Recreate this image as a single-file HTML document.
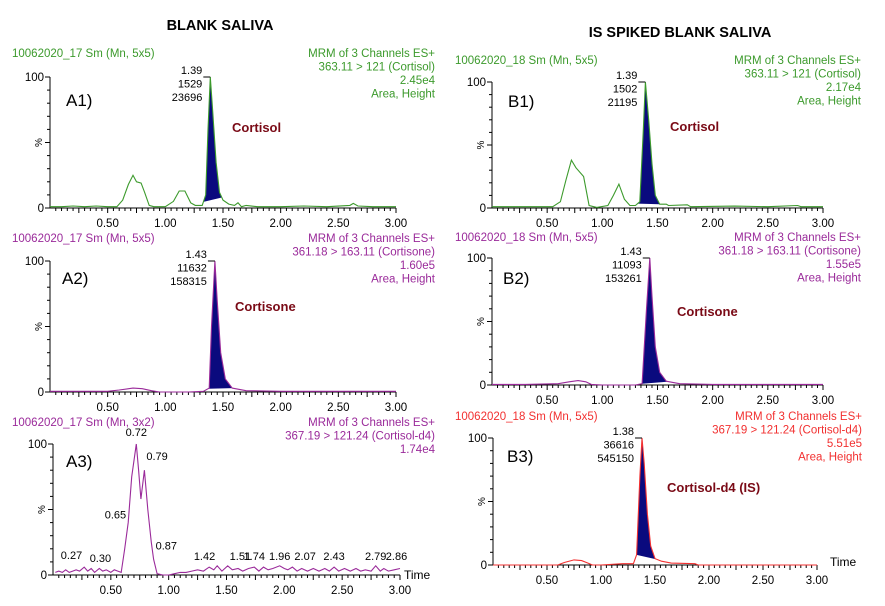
<!DOCTYPE html>
<html><head><meta charset="utf-8">
<style>
html,body{margin:0;padding:0;background:#fff;}
svg{display:block;font-family:"Liberation Sans",Arial,sans-serif;}
</style></head>
<body>
<svg id="c" width="885" height="606" viewBox="0 0 885 606">
<text x="220" y="30" text-anchor="middle" font-size="14.5" font-weight="bold" fill="#000">BLANK SALIVA</text>
<text x="680" y="37" text-anchor="middle" font-size="14.5" font-weight="bold" fill="#000">IS SPIKED BLANK SALIVA</text>
</svg>
<script>
// ---- data arrays ----
const xTickLabels = ["0.50","1.00","1.50","2.00","2.50","3.00"];
const xTickValues = [0.5,1.0,1.5,2.0,2.5,3.0];

const a1Times  = [0,0.1,0.2,0.3,0.4,0.5,0.58,0.63,0.68,0.72,0.75,0.79,0.82,0.86,0.9,1.0,1.07,1.12,1.17,1.22,1.26,1.32,1.35,1.37,1.39,1.41,1.44,1.47,1.5,1.55,1.6,1.63,1.66,1.7,1.8,2.0,2.2,2.4,2.6,2.63,2.67,2.8,3.0];
const a1Values = [1,1,1.5,1,1.5,1,1,6,18,25,20,19,12,2,1,1,5,13,13,4,2,2,10,60,100,75,35,12,6,3,2,4,1,2,1,1,1.5,1,2,3.5,1.5,1,1];

const a2Times  = [0,0.3,0.5,0.6,0.72,0.8,0.88,0.95,1.2,1.33,1.38,1.40,1.43,1.45,1.48,1.52,1.58,1.7,2.0,2.5,3.0];
const a2Values = [0.5,0.5,0.5,1.5,3,2.5,1,0,0,0.5,3,50,100,70,30,10,3,1,0.5,0.5,0.5];

const a3Times  = [0.02,0.05,0.08,0.11,0.14,0.17,0.2,0.23,0.27,0.3,0.33,0.36,0.4,0.43,0.46,0.5,0.53,0.56,0.59,0.62,0.65,0.68,0.72,0.74,0.76,0.79,0.82,0.85,0.87,0.9,0.95,1.0,1.05,1.1,1.15,1.2,1.25,1.3,1.35,1.39,1.42,1.46,1.51,1.55,1.6,1.64,1.69,1.74,1.78,1.82,1.86,1.9,1.96,2.0,2.03,2.07,2.11,2.15,2.2,2.25,2.3,2.35,2.39,2.43,2.47,2.52,2.57,2.62,2.66,2.7,2.75,2.79,2.83,2.86,2.9,2.95,3.0];
const a3Values = [2,3,2,4,2,3,4,3,6,3,5,2,5,3,4,2,4,3,2,20,40,75,100,80,58,80,50,25,12,1,0,0,1,2,2,3,4,3,6,4,7,3,7,4,5,3,5,6,3,6,4,5,7,5,4,6,3,5,3,5,3,5,3,6,3,5,3,5,3,4,3,7,3,5,3,4,5];
const a3PeakLabels = ["0.27","0.30","0.65","0.72","0.79","0.87","1.42","1.51","1.74","1.96","2.07","2.43","2.79","2.86"];
const a3PeakTimes  = [0.27,0.30,0.65,0.72,0.79,0.87,1.42,1.51,1.74,1.96,2.07,2.43,2.79,2.86];

const b1Times  = [0,0.3,0.55,0.62,0.67,0.72,0.76,0.83,0.88,0.95,1.05,1.1,1.15,1.2,1.25,1.3,1.34,1.37,1.39,1.42,1.45,1.48,1.52,1.58,1.6,1.77,1.8,2.2,2.5,2.77,2.8,3.0];
const b1Values = [1,1,1,5,22,38,32,25,2,0.5,2,10,19,7,2,2,5,60,100,70,35,10,3,3,2,2.5,1,1.5,1,2,1,1];

const b2Times  = [0,0.3,0.6,0.7,0.78,0.85,0.9,1.0,1.3,1.36,1.40,1.43,1.45,1.48,1.52,1.58,1.7,2.0,2.5,3.0];
const b2Values = [0.5,0.5,1,2.5,3.5,2.5,0.5,0,0,1,60,100,70,30,10,3,1,0.5,0.5,0.5];

const b3Times  = [0,0.3,0.6,0.66,0.75,0.82,0.88,0.92,1.0,1.2,1.3,1.33,1.36,1.38,1.40,1.43,1.46,1.5,1.56,1.65,1.87,1.9,3.0];
const b3Values = [0,0,0,2,4,3.5,1.5,0,0,1,1,8,70,100,80,40,15,5,3,1.5,1,0,0];

// ---- panel geometry ----
const GREEN="#3c9a2c", PURPLE="#9a2a9a", RED="#f23030", FILL="#0a0a7e", ANN="#7a0a16";
const panels = [
 {id:"a1",x0:50,x1:396,y100:77,y0:208,color:GREEN,times:a1Times,values:a1Values,fill:[1.33,1.49],
  left:"10062020_17 Sm (Mn, 5x5)",right:["MRM of 3 Channels ES+","363.11 > 121 (Cortisol)","2.45e4","Area, Height"],rx:435,hy:57,
  tag:"A1)",tx:66,ty:106,ann:["1.39","1529","23696"],annT:1.39,compound:"Cortisol",cx:232,cy:132,time:false},
 {id:"a2",x0:50,x1:396,y100:261,y0:392,color:PURPLE,times:a2Times,values:a2Values,fill:[1.37,1.58],
  left:"10062020_17 Sm (Mn, 5x5)",right:["MRM of 3 Channels ES+","361.18 > 163.11 (Cortisone)","1.60e5","Area, Height"],rx:435,hy:242,
  tag:"A2)",tx:62,ty:284,ann:["1.43","11632","158315"],annT:1.43,compound:"Cortisone",cx:235,cy:311,time:false},
 {id:"a3",x0:53,x1:400,y100:444,y0:575,color:PURPLE,times:a3Times,values:a3Values,fill:null,
  left:"10062020_17 Sm (Mn, 3x2)",right:["MRM of 3 Channels ES+","367.19 > 121.24 (Cortisol-d4)","1.74e4"],rx:435,hy:426,
  tag:"A3)",tx:66,ty:467,ann:null,compound:null,time:true,tmx:404,tmy:579},
 {id:"b1",x0:492,x1:823,y100:82,y0:208,color:GREEN,times:b1Times,values:b1Values,fill:[1.32,1.52],
  left:"10062020_18 Sm (Mn, 5x5)",right:["MRM of 3 Channels ES+","363.11 > 121 (Cortisol)","2.17e4","Area, Height"],rx:861,hy:64,
  tag:"B1)",tx:508,ty:107,ann:["1.39","1502","21195"],annT:1.39,compound:"Cortisol",cx:670,cy:131,time:false},
 {id:"b2",x0:492,x1:823,y100:258,y0:385,color:PURPLE,times:b2Times,values:b2Values,fill:[1.36,1.6],
  left:"10062020_18 Sm (Mn, 5x5)",right:["MRM of 3 Channels ES+","361.18 > 163.11 (Cortisone)","1.55e5","Area, Height"],rx:861,hy:241,
  tag:"B2)",tx:503,ty:284,ann:["1.43","11093","153261"],annT:1.43,compound:"Cortisone",cx:677,cy:316,time:false},
 {id:"b3",x0:493,x1:817,y100:438,y0:565,color:RED,times:b3Times,values:b3Values,fill:[1.33,1.52],
  left:"10062020_18 Sm (Mn, 5x5)",right:["MRM of 3 Channels ES+","367.19 > 121.24 (Cortisol-d4)","5.51e5","Area, Height"],rx:862,hy:420,
  tag:"B3)",tx:507,ty:462,ann:["1.38","36616","545150"],annT:1.38,compound:"Cortisol-d4 (IS)",cx:667,cy:492,time:true,tmx:830,tmy:566}
];

const svg=document.getElementById('c');
const NS="http://www.w3.org/2000/svg";
function mk(tag,attrs,parent,text){const e=document.createElementNS(NS,tag);for(const k in attrs)e.setAttribute(k,attrs[k]);if(text!==undefined)e.textContent=text;(parent||svg).appendChild(e);return e;}

panels.forEach(p=>{
  const g=mk('g',{});
  
  
  const sx=t=>p.x0+(t/3)*(p.x1-p.x0);
  const sy=v=>p.y0-(v/100)*(p.y0-p.y100);
  const lh=mk('text',{x:12+(p.id[0]==='b'?443:0),y:p.hy,'font-size':11.5,fill:p.color},g,p.left);
  
  
  p.right.forEach((s,i)=>{
    const t=mk('text',{x:p.rx,y:p.hy+i*13.5,'font-size':11.5,fill:p.color,'text-anchor':'end'},g,s);
    
    
  });
  mk('line',{x1:p.x0,y1:p.y100,x2:p.x0,y2:p.y0,stroke:'#000','stroke-width':1},g);
  mk('line',{x1:p.x0,y1:p.y0,x2:p.x1,y2:p.y0,stroke:'#000','stroke-width':1},g);
  for(let v=0;v<=100;v+=10){const L=(v%50===0)?5:3;mk('line',{x1:p.x0-L,y1:sy(v),x2:p.x0,y2:sy(v),stroke:'#000','stroke-width':1},g);}
  mk('text',{x:p.x0-6,y:sy(100)+4,'font-size':11.5,'text-anchor':'end'},g,'100');
  mk('text',{x:p.x0-6,y:sy(0)+4,'font-size':11.5,'text-anchor':'end'},g,'0');
  mk('text',{x:0,y:0,'font-size':10,'text-anchor':'middle',transform:`translate(${p.x0-8},${sy(50)}) rotate(-90)`},g,'%');
  for(let i=1;i<=60;i++){const t=i*0.05;const L=(i%5===0)?5:3;mk('line',{x1:sx(t),y1:p.y0,x2:sx(t),y2:p.y0+L,stroke:'#000','stroke-width':1},g);}
  xTickValues.forEach((t,i)=>{
    const tl=mk('text',{x:sx(t),y:p.y0+19,'font-size':11.5,'text-anchor':'middle'},g,xTickLabels[i]);
    
    
  });
  if(p.fill){
    const [a,b]=p.fill;
    const interp=t=>{for(let i=1;i<p.times.length;i++){if(p.times[i]>=t){const f=(t-p.times[i-1])/(p.times[i]-p.times[i-1]);return p.values[i-1]+f*(p.values[i]-p.values[i-1]);}}return 0;};
    let pts=[[sx(a),sy(interp(a))]];
    p.times.forEach((t,i)=>{if(t>a&&t<b)pts.push([sx(t),sy(p.values[i])]);});
    pts.push([sx(b),sy(interp(b))]);
    const poly=mk('polygon',{points:pts.map(q=>q.join(',')).join(' '),fill:FILL},g);
    
    
  }
  const d=p.times.map((t,i)=>(i?'L':'M')+sx(t).toFixed(1)+','+sy(p.values[i]).toFixed(1)).join(' ');
  const path=mk('path',{d:d,fill:'none',stroke:p.color,'stroke-width':1.1},g);
  
  
  const tg=mk('text',{x:p.tx,y:p.ty,'font-size':17},g,p.tag);
  
  
  if(p.ann){
    const px=sx(p.annT);
    mk('line',{x1:px-7,y1:sy(100),x2:px,y2:sy(100),stroke:'#000','stroke-width':1},g);
    p.ann.forEach((s,i)=>{
      const t=mk('text',{x:px-8,y:sy(100)-3+i*13.5,'font-size':11,'text-anchor':'end'},g,s);
      
      
    });
  }
  if(p.compound){
    const c=mk('text',{x:p.cx,y:p.cy,'font-size':13,'font-weight':'bold',fill:ANN},g,p.compound);
    
    
  }
  if(p.time){
    const tm=mk('text',{x:p.tmx,y:p.tmy,'font-size':12},g,'Time');
    
    
  }
  if(p.id==='a3'){
    const leftSide=["0.27","0.65","1.42"];
    const rightSide=["0.30","0.79","0.87","1.51","2.07","2.86"];
    a3PeakTimes.forEach((t,i)=>{
      let idx=0,best=9;p.times.forEach((tt,j)=>{if(Math.abs(tt-t)<best){best=Math.abs(tt-t);idx=j;}});
      const v=p.values[idx];
      const lab=a3PeakLabels[i];
      let x=sx(t),y=Math.min(sy(v)-8,562),anchor='middle';
      if(leftSide.includes(lab)){x=sx(t)-2;anchor='end';}
      if(rightSide.includes(lab)){x=sx(t)+2;anchor='start';}
      if(lab==="0.65"){y=sy(v)-4;}
      if(lab==="0.79"||lab==="0.87"){y=sy(v)-10;}
      if(t>1){y=Math.min(sy(v)-6,560);}
      const lb=mk('text',{x:x,y:y,'font-size':11,'text-anchor':anchor},g,lab);
      
      
    });
  }
});
</script>
</body></html>
